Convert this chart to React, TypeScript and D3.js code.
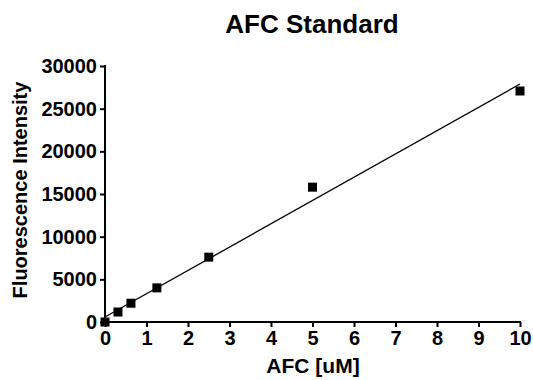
import { useEffect, useRef } from 'react';
import * as d3 from 'd3';

// AFC concentration (uM) and measured fluorescence
const afcConc = [0, 0.3125, 0.625, 1.25, 2.5, 5, 10];
const fluorescence = [0, 1170, 2200, 4000, 7600, 15800, 27070];
const xTicks = [0, 1, 2, 3, 4, 5, 6, 7, 8, 9, 10];
const yTicks = [0, 5000, 10000, 15000, 20000, 25000, 30000];

const W = 533;
const H = 380;
const FONT = "'Liberation Sans', Arial, Helvetica, sans-serif";

export default function App() {
  const svgRef = useRef<SVGSVGElement>(null);

  useEffect(() => {
    if (!svgRef.current) return;
    const svg = d3.select(svgRef.current);
    svg.selectAll('*').remove();

    const x = d3.scaleLinear().domain([0, 10]).range([105, 520]);
    const y = d3.scaleLinear().domain([0, 30000]).range([322, 66]);

    // least squares fit line
    const mx = d3.mean(afcConc)!;
    const my = d3.mean(fluorescence)!;
    let sxy = 0;
    let sxx = 0;
    afcConc.forEach((c, i) => {
      sxy += (c - mx) * (fluorescence[i] - my);
      sxx += (c - mx) * (c - mx);
    });
    const slope = sxy / sxx;
    const intercept = my - slope * mx;

    // Title
    svg
      .append('text')
      .attr('x', 312)
      .attr('y', 33)
      .attr('text-anchor', 'middle')
      .attr('font-family', FONT)
      .attr('font-weight', 'bold')
      .attr('font-size', '26px')
      .text('AFC Standard');

    // X axis
    const xAxis = svg
      .append('g')
      .attr('transform', `translate(0,${y(0)})`)
      .call(d3.axisBottom(x).tickValues(xTicks).tickSize(5).tickPadding(4).tickFormat(d3.format('d')));
    xAxis.select('.domain').attr('stroke-width', 2).attr('d', `M${x(0)},0H${x(10) + 1}`);
    xAxis.selectAll('.tick line').attr('stroke-width', 2);
    xAxis
      .selectAll('.tick text')
      .attr('font-family', FONT)
      .attr('font-weight', 'bold')
      .attr('font-size', '20px')
      .attr('fill', '#000');

    // Y axis
    const yAxis = svg
      .append('g')
      .attr('transform', `translate(${x(0)},0)`)
      .call(d3.axisLeft(y).tickValues(yTicks).tickSize(5).tickPadding(3).tickFormat(d3.format('d')));
    yAxis.select('.domain').attr('stroke-width', 2).attr('d', `M0,${y(0) + 1}V${y(30000) - 1}`);
    yAxis.selectAll('.tick line').attr('stroke-width', 2);
    yAxis
      .selectAll('.tick text')
      .attr('font-family', FONT)
      .attr('font-weight', 'bold')
      .attr('font-size', '20px')
      .attr('fill', '#000');

    // Axis titles
    svg
      .append('text')
      .attr('x', 313)
      .attr('y', 373)
      .attr('text-anchor', 'middle')
      .attr('font-family', FONT)
      .attr('font-weight', 'bold')
      .attr('font-size', '21px')
      .text('AFC [uM]');

    svg
      .append('text')
      .attr('transform', `translate(27,190) rotate(-90)`)
      .attr('text-anchor', 'middle')
      .attr('font-family', FONT)
      .attr('font-weight', 'bold')
      .attr('font-size', '20px')
      .text('Fluorescence Intensity');

    // Fit line
    const line = d3
      .line<number>()
      .x((d) => x(d))
      .y((d) => y(intercept + slope * d));
    svg
      .append('path')
      .datum([0, 10])
      .attr('d', line)
      .attr('fill', 'none')
      .attr('stroke', '#000')
      .attr('stroke-width', 1.3);

    // Data points
    const s = 9;
    svg
      .append('g')
      .selectAll('rect')
      .data(afcConc)
      .enter()
      .append('rect')
      .attr('x', (d) => x(d) - s / 2)
      .attr('y', (_, i) => y(fluorescence[i]) - s / 2)
      .attr('width', s)
      .attr('height', s)
      .attr('fill', '#000');
  }, []);

  return (
    <svg
      ref={svgRef}
      width={W}
      height={H}
      style={{ position: 'absolute', left: 0, top: 0, background: '#fff' }}
    />
  );
}
